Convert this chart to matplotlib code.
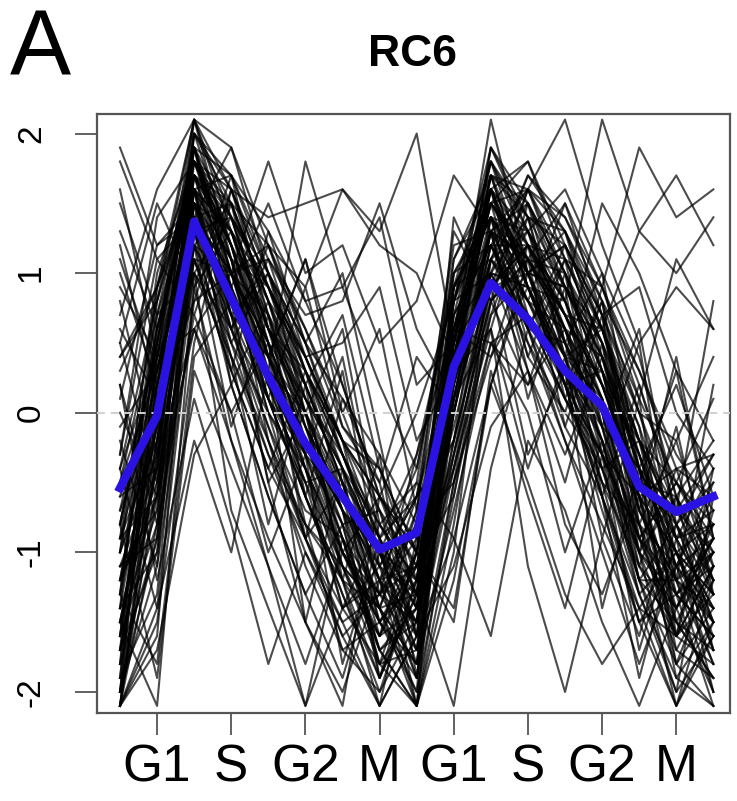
import numpy as np
import matplotlib
matplotlib.use("Agg")
from matplotlib import pyplot as plt

plt.rcParams['font.family'] = ['Liberation Sans', 'DejaVu Sans']

phase_labels = ['G1', 'S', 'G2', 'M', 'G1', 'S', 'G2', 'M']
phase_ticks = [1, 3, 5, 7, 9, 11, 13, 15]
timepoints = list(range(17))

# cluster mean (blue)
rc6_mean = [-0.54, -0.02, 1.37, 0.82, 0.26, -0.22, -0.6, -0.98, -0.86, 0.33,
            0.93, 0.67, 0.3, 0.05, -0.53, -0.71, -0.6]

# individual gene profiles (black)
genes = [
	[-2.1, -0.3, 1.9, 1.2, 0.5, -0.2, -0.9, -1.5, -1.2, 0.4, 1.5, 1.1, 0.6, 0.1, -0.6, -1.3, -1.1],
	[-1.6, 0.2, 1.7, 0.9, 0.2, -0.5, -1.1, -1.8, -1.4, 0.6, 1.3, 0.8, 0.2, -0.3, -0.9, -1.5, -1.7],
	[-0.8, 0.5, 2.1, 1.4, 0.6, 0.1, -0.4, -1.2, -1.9, 0.2, 1.6, 1.3, 0.9, 0.4, -0.2, -0.8, -1.2],
	[1.9, 1.2, 1.5, 0.8, 0.1, -0.6, -1.3, -2.0, -1.5, -0.2, 0.9, 1.2, 0.7, 0.0, -0.4, -0.9, -0.8],
	[-1.2, -0.5, 1.2, 0.4, -0.3, -1.0, -1.6, -2.1, -0.9, 0.9, 1.8, 1.3, 0.7, 0.2, -0.5, -0.6, -0.2],
	[0.3, 0.9, 1.6, 1.1, 0.9, 0.3, -0.2, -0.7, -1.1, -0.4, 0.7, 1.0, 1.2, 0.6, -0.3, -1.2, -2.0],
	[-2.1, -1.4, 0.9, 1.3, 0.6, 0.0, -0.7, -1.1, -1.3, 0.1, 0.6, 1.5, 1.0, 0.5, -0.1, -0.9, -1.4],
	[1.6, 0.4, 1.1, 0.3, -0.4, -0.9, -0.5, -1.4, -2.1, -1.0, 1.1, 0.8, 0.3, -0.5, -1.1, -1.6, -0.7],
	[-0.4, 0.8, 1.8, 1.6, 1.0, 0.4, -0.3, -0.9, -0.6, 0.5, 1.7, 1.6, 1.1, 0.6, -0.2, -0.7, -1.0],
	[-1.8, -0.9, 1.4, 0.7, 0.4, -0.8, -1.2, -1.6, -1.0, 0.7, 1.2, 0.6, -0.1, -0.6, -1.3, -2.0, -1.6],
	[0.7, 1.6, 2.1, 1.9, 1.0, 0.5, 0.1, -0.3, -0.8, -0.5, 0.4, 0.9, 0.8, 0.2, -0.6, -1.0, -1.3],
	[-1.4, 0.1, 1.3, 0.2, -0.6, -1.3, -1.9, -1.0, -0.4, 1.0, 1.4, 0.5, 0.0, -0.4, -0.2, -0.5, -0.9],
	[-0.2, -1.1, 0.8, 1.0, 1.2, 0.6, -0.1, -0.5, -1.6, -0.9, 0.2, 1.1, 1.5, 0.9, 0.3, -0.4, -0.3],
	[1.3, 0.6, 1.7, 1.2, 0.4, -0.3, -0.6, -1.0, -1.2, 0.8, 1.0, 0.9, 0.4, -0.2, -0.8, -1.8, -2.1],
	[-2.0, 0.3, 1.5, 0.6, -0.1, -0.7, -0.9, -1.7, -2.1, 0.3, 1.9, 1.4, 0.5, -0.4, -1.0, -0.6, -1.2],
	[-0.9, -0.2, 1.9, 1.0, 0.7, 0.2, -0.4, -0.8, -0.5, 1.2, 1.3, 0.3, -0.3, 0.4, -0.5, -1.4, -0.8],
	[0.9, 0.4, 0.6, -0.2, -1.1, -2.1, -1.4, -0.8, -1.2, -0.3, 0.8, 1.6, 0.9, 0.6, 0.0, -0.2, 0.4],
	[-1.0, 0.6, 1.6, 0.5, 0.0, -0.4, -1.4, -1.2, -1.5, 0.0, 1.1, 0.7, 0.2, 0.3, -0.3, -1.1, -0.5],
	[-1.7, -1.0, 1.0, 0.6, 1.1, 0.3, -0.3, -1.0, -1.7, 0.5, 1.5, 1.8, 1.2, 0.7, -0.7, -1.2, -1.0],
	[0.1, 1.2, 1.4, 0.9, 0.0, -0.9, -1.6, -1.3, -0.3, 0.6, 0.5, 0.2, 0.6, 0.1, -1.1, -0.4, -0.6],
	[-0.6, -0.4, 2.0, 1.7, 1.3, 0.8, 0.2, -0.6, -1.0, -0.1, 1.0, 1.7, 1.4, 0.8, 0.3, -0.3, -0.7],
	[1.0, 0.2, 1.2, 0.7, -0.5, -1.5, -2.1, -0.6, -0.9, 0.8, 1.4, 1.0, 0.2, -0.7, -1.5, -1.1, -1.5],
	[-1.3, 0.9, 1.7, 0.8, 0.3, 0.0, -1.0, -1.4, -0.7, 0.4, 0.9, 1.2, 0.8, -0.1, -0.4, -1.7, -1.9],
	[-2.1, -1.5, 0.5, 1.6, 0.9, 0.4, -0.2, -0.6, -1.1, -0.6, 0.9, 1.3, 1.6, 1.0, 0.4, -0.6, -1.3],
	[0.5, -0.5, 1.4, 1.0, 0.2, -0.2, -0.7, -1.9, -1.3, 0.3, 1.6, 0.9, 0.3, -0.6, -1.9, -0.9, -0.4],
	[-1.1, -0.7, 1.1, 0.3, -0.4, 0.3, -0.6, -1.5, -1.8, -0.7, 0.5, 0.7, 0.1, -0.3, -0.9, -1.3, -2.1],
	[-0.3, 1.4, 1.8, 1.3, 0.8, 0.0, -0.5, -0.9, -1.4, 0.7, 1.2, 0.6, 0.5, 0.0, -1.2, -0.8, -0.5],
	[1.5, 0.7, 1.0, 1.4, 0.6, 0.3, -0.2, -0.4, -1.0, -1.4, 0.2, 1.0, 1.3, 0.7, 0.1, -0.5, -1.0],
	[-1.5, -0.1, 1.5, 1.1, -0.2, -0.8, -1.1, -1.4, -2.0, 1.0, 1.5, 1.1, 0.6, -0.3, -0.6, -1.0, -1.3],
	[-0.7, 0.0, 1.6, 0.2, 0.8, -0.1, -0.8, -1.3, -0.8, 0.2, 1.1, 1.3, 0.4, 0.6, -0.1, -1.5, -1.0],
	[1.8, 1.1, 1.4, 1.9, 1.2, 0.9, 1.6, 1.3, 2.0, 0.5, 2.1, 1.0, 0.4, 1.5, 1.0, 0.3, -0.2],
	[0.4, 0.8, 1.7, 1.0, 1.8, 1.0, 1.2, 0.5, 0.8, 1.7, 1.3, 1.6, 2.1, 1.2, 0.5, 0.9, 0.6],
	[-0.5, 0.3, 1.3, 0.9, 0.3, 1.8, 0.9, 1.4, 0.2, 0.5, 0.9, 1.2, 0.8, 2.1, 1.3, 1.7, 1.2],
	[1.2, 0.1, 0.8, 1.6, 1.4, 1.5, 1.6, 1.2, 1.0, 0.4, 1.5, 0.6, 1.1, 0.9, 1.9, 1.4, 1.6],
	[0.0, -0.6, 0.6, 1.0, 1.1, 0.7, 0.8, 1.5, 0.6, 0.1, 0.9, 1.0, 1.2, 0.6, 1.3, 1.0, 1.4],
	[-2.1, -1.7, -0.3, 0.2, -0.6, -1.3, -0.8, -1.8, -2.1, -1.2, 0.2, -0.5, -1.3, -1.8, -1.4, -2.1, -1.5],
	[-0.8, -1.9, 0.3, -0.4, -1.1, -1.8, -1.0, -0.6, -1.3, -2.1, -0.4, 0.6, -0.2, -1.0, -1.8, -1.1, -1.8],
	[-1.5, -2.1, 0.9, -0.2, -0.9, -1.5, -2.0, -1.2, -0.5, -0.9, -1.6, -0.2, -0.7, -1.5, -2.1, -1.4, -0.9],
	[0.2, -1.2, 0.1, -0.8, -1.8, -1.0, -1.5, -2.1, -1.6, -1.1, -0.1, 0.3, -0.8, -1.3, -0.6, -1.9, -2.1],
	[-1.2, -0.6, 1.0, -0.7, -1.4, -2.1, -0.9, -1.7, -1.4, -0.4, 0.6, -1.1, -2.0, -0.9, -1.6, -0.6, -1.7],
	[-1.9, 0.4, 2.0, 1.5, 0.7, -0.1, -0.6, -1.1, -1.5, 0.5, 1.6, 1.2, 0.7, 0.2, -0.5, -1.1, -1.4],
	[-1.0, -0.3, 1.5, 1.0, 0.5, -0.4, -1.0, -1.6, -1.1, 0.1, 1.3, 0.8, 0.6, 0.0, -1.0, -1.3, -0.9],
	[-0.5, 0.7, 1.9, 1.1, 0.2, -0.3, -0.8, -0.7, -1.6, 0.8, 1.8, 1.4, 0.4, 0.3, -0.3, -0.9, -0.7],
	[-1.6, -0.8, 1.7, 1.3, 0.6, 0.2, -0.5, -1.2, -0.8, -0.2, 1.4, 1.0, 0.9, 0.5, -0.6, -0.4, -1.2],
	[0.6, 0.1, 1.3, 0.6, 0.1, -0.6, -1.2, -1.9, -1.2, 0.6, 1.0, 0.5, -0.2, -0.8, -1.4, -1.6, -1.1],
	[-2.0, -0.6, 1.6, 0.9, 0.0, -0.5, -0.4, -1.0, -1.3, 0.4, 1.7, 1.5, 1.0, 0.4, -0.4, -0.7, -0.3],
	[-1.3, 0.5, 1.8, 1.4, 0.9, 0.4, -0.2, -1.3, -1.7, -0.3, 0.8, 1.1, 0.7, 0.1, -0.7, -1.3, -1.6],
	[-0.1, 0.3, 1.4, 0.4, -0.2, -0.9, -1.4, -1.1, -0.6, 1.1, 1.6, 0.7, 0.3, -0.1, -0.9, -0.5, -0.8],
	[-1.4, -1.0, 1.2, 1.5, 0.8, 0.1, -0.3, -0.9, -1.4, 0.0, 1.2, 1.6, 1.0, 0.2, -0.2, -1.0, -1.5],
	[-0.9, 0.9, 2.1, 1.3, 0.4, -0.2, -1.0, -1.5, -1.0, 0.9, 1.5, 1.0, 0.5, -0.2, -1.1, -1.4, -1.0],
	[-2.1, -0.8, 1.8, 1.5, 0.8, 0.2, -0.5, -1.4, -1.8, 0.1, 1.3, 1.5, 0.9, 0.3, -0.8, -1.6, -1.3],
	[-1.8, 0.1, 2.0, 1.2, 0.3, -0.4, -1.1, -1.7, -2.1, 0.6, 1.8, 1.2, 0.6, -0.1, -1.2, -1.8, -1.4],
	[-2.0, -1.1, 1.6, 1.7, 1.0, 0.5, -0.3, -1.0, -1.5, -0.3, 1.1, 1.7, 1.3, 0.6, -0.4, -1.2, -1.8],
	[-1.7, 0.6, 1.9, 0.9, 0.1, -0.6, -1.3, -1.9, -1.3, 0.8, 1.6, 1.0, 0.4, -0.4, -1.3, -1.0, -1.6],
	[-1.1, -0.4, 1.7, 1.4, 1.0, 0.3, -0.4, -1.1, -1.9, -0.5, 1.0, 1.4, 1.2, 0.7, 0.0, -0.9, -2.0],
	[-2.1, 0.0, 1.4, 1.0, 0.4, 0.0, -0.7, -1.6, -1.4, 0.9, 1.4, 0.9, 0.4, -0.5, -1.5, -2.1, -1.2],
	[-1.5, -0.7, 2.0, 1.6, 0.7, -0.2, -0.9, -1.3, -1.1, 0.3, 1.9, 1.5, 0.8, 0.1, -0.9, -1.2, -1.5],
	[-0.6, 0.2, 1.6, 1.3, 0.9, 0.1, -0.6, -1.2, -1.6, 0.2, 1.3, 1.1, 1.0, 0.3, -0.6, -1.6, -1.8],
	[-1.9, -1.3, 1.3, 0.8, 0.3, -0.4, -1.2, -2.1, -1.6, 0.6, 1.6, 0.9, 0.2, -0.6, -1.4, -1.0, -0.8],
	[-1.2, 0.3, 1.8, 1.1, 0.6, 0.0, -0.7, -1.4, -1.3, 0.4, 1.4, 1.3, 0.8, 0.2, -0.5, -0.9, -1.4],
	[-2.1, -0.5, 1.5, 0.7, 0.1, -0.3, -1.0, -1.5, -1.9, 0.0, 1.2, 0.8, 0.4, 0.1, -1.0, -1.4, -2.0],
	[-1.4, 0.8, 2.1, 1.6, 0.9, 0.3, -0.3, -0.8, -1.2, 0.7, 1.7, 1.4, 0.9, 0.4, -0.3, -1.1, -0.9],
	[-0.9, -0.6, 1.4, 1.5, 1.2, 0.5, -0.2, -0.9, -1.6, -0.2, 0.9, 1.6, 1.4, 0.9, 0.2, -0.6, -1.1],
	[-1.6, 0.4, 1.9, 1.0, 0.2, -0.5, -1.4, -1.8, -1.0, 1.1, 1.7, 0.9, 0.2, -0.3, -1.0, -1.7, -1.2],
	[-2.0, -0.9, 1.1, 1.0, 0.5, -0.2, -0.7, -1.2, -2.1, -0.8, 0.8, 1.2, 1.1, 0.5, -0.2, -1.3, -1.6],
	[-1.3, -0.1, 1.7, 1.2, 0.2, -0.2, -0.8, -1.7, -1.5, 0.5, 1.5, 1.2, 0.5, 0.0, -0.8, -1.1, -0.6],
	[-1.8, 0.7, 1.6, 0.7, -0.1, -0.9, -1.5, -1.3, -0.9, 0.8, 1.9, 1.3, 0.6, -0.2, -1.3, -1.9, -1.5],
	[-0.7, 0.5, 1.9, 1.7, 1.1, 0.6, 0.0, -0.7, -1.3, 0.3, 1.6, 1.8, 1.1, 0.5, -0.4, -1.0, -1.7],
	[-1.5, -0.2, 1.3, 0.5, -0.3, -0.8, -1.7, -2.0, -1.2, 0.2, 1.1, 0.6, 0.1, -0.5, -0.8, -1.4, -0.9],
	[-2.1, -1.6, 1.5, 1.3, 0.6, -0.1, -0.6, -1.0, -1.7, 0.0, 1.3, 1.1, 0.7, 0.2, -0.6, -1.5, -1.9],
	[-1.0, 1.0, 1.8, 1.0, 0.4, -0.3, -1.1, -1.6, -0.7, 1.0, 1.2, 0.7, 0.1, -0.4, -1.2, -1.2, -0.8],
	[-1.7, -0.4, 1.9, 1.4, 0.5, 0.1, -0.4, -1.0, -1.4, 0.6, 1.6, 1.0, 0.9, 0.3, -0.5, -0.8, -1.3],
	[-0.4, 0.4, 1.5, 0.8, 0.4, -0.1, -0.9, -1.8, -1.7, -0.4, 1.0, 0.9, 0.3, -0.2, -1.0, -2.1, -1.6],
	[-1.9, 0.2, 1.7, 1.5, 0.8, 0.4, -0.2, -0.6, -1.0, 0.5, 1.5, 1.6, 1.3, 0.8, 0.0, -0.7, -1.2],
	[-1.4, -0.6, 1.6, 1.1, 0.3, -0.6, -1.2, -1.4, -1.8, 0.4, 1.3, 1.0, 0.2, -0.6, -1.5, -1.3, -1.0],
	[-2.0, 0.5, 1.8, 1.2, 0.7, 0.0, -0.6, -1.2, -1.1, 0.2, 1.7, 1.1, 0.6, 0.4, -0.7, -1.2, -1.4],
	[-1.1, -0.9, 1.3, 1.4, 0.9, 0.2, -0.5, -1.5, -2.0, -0.6, 0.7, 1.4, 1.3, 0.4, -0.4, -1.0, -1.7],
	[-1.6, 0.0, 2.1, 1.1, 0.1, -0.4, -1.0, -1.3, -1.5, 0.9, 1.4, 1.1, 0.5, -0.1, -0.9, -1.6, -1.1],
	[-0.8, 0.6, 1.6, 1.3, 0.5, -0.2, -0.7, -1.0, -1.8, 0.1, 1.2, 1.2, 0.7, 0.6, -0.2, -0.8, -1.5],
	[-2.1, -0.2, 1.2, 0.6, -0.2, -1.1, -1.7, -1.5, -1.1, 0.5, 1.8, 1.0, 0.3, -0.3, -1.2, -1.5, -1.9],
	[0.8, -0.3, 1.1, 0.5, 1.0, 0.2, 0.7, -0.4, -1.0, 0.6, 0.4, 1.2, 0.1, 0.8, -0.5, 0.3, -0.9],
	[-0.3, 1.1, 0.7, 1.5, 0.4, 1.1, 0.0, 0.6, -0.7, 1.3, 0.8, 0.2, 1.0, -0.3, 0.5, -1.2, 0.2],
	[-1.2, 0.2, 1.5, 0.3, 1.3, 0.5, 1.0, -0.2, -1.4, 0.1, 1.4, 0.4, 1.1, -0.1, 0.6, -0.8, -0.3],
	[0.5, 1.5, 0.9, 1.7, 0.6, -0.3, 0.4, -0.9, -0.3, 0.9, 1.1, 1.5, 0.5, 1.0, -0.4, 0.2, -0.6],
	[-1.5, -0.4, 1.2, -0.1, 0.7, -0.6, 0.3, -1.1, -0.6, -0.2, 1.0, 0.3, -0.5, 0.5, -1.0, -0.1, -1.3],
	[-0.9, 0.1, 1.0, 0.4, -0.8, 0.2, -1.2, -0.3, -1.9, 0.3, 0.6, -0.4, 0.4, -0.9, 0.1, -1.6, -0.4],
	[0.2, -0.8, 0.7, 0.0, 0.5, -0.9, 0.1, -0.5, 0.4, 0.0, 1.3, 0.1, 0.9, -0.6, 0.2, -0.7, 0.8],
	[-1.7, -0.2, 1.4, 0.9, 1.5, 0.8, 0.9, 0.2, -0.4, 0.9, 1.4, 0.8, 1.5, 0.7, 0.9, 0.0, -0.4],
	[-0.4, -1.4, -0.2, -1.0, 0.3, -1.5, -0.4, -1.9, -1.0, -1.5, 0.3, -0.6, -1.4, -0.3, -1.7, -0.8, -1.5],
	[-2.0, -0.3, 0.6, 0.0, -1.0, -0.3, -1.8, -0.9, -2.1, -0.5, 0.5, 0.0, -1.0, -0.2, -1.2, -2.0, -0.6],
	[1.1, 0.3, 1.6, 0.6, 1.2, 0.4, 0.5, 0.9, -0.2, 0.3, 1.3, 0.4, 0.0, 0.9, 0.1, 1.1, 0.6],
	[-0.8, 0.4, 1.8, 1.2, 0.4, 1.1, 0.2, -0.6, 0.0, 0.8, 1.6, 0.6, 1.2, 0.3, -0.7, 0.4, -0.9],
	[-1.3, -1.8, 0.4, 0.8, -0.5, 0.0, -1.1, -1.4, -0.6, 0.3, 0.9, -0.3, 0.3, -1.4, -0.4, -1.8, -1.1],
	[0.4, 0.9, 1.9, 0.7, 1.0, 0.0, 0.6, -0.8, -1.3, 1.4, 0.8, 1.1, -0.1, 0.7, -0.9, -0.5, 0.1],
	[-1.0, -0.1, 1.2, 1.0, 0.1, 0.9, -0.1, -0.4, -1.2, 0.4, 1.7, 0.9, 0.2, 0.8, -0.8, -0.2, -1.1],
]

fig = plt.figure(figsize=(7.37, 8.01), dpi=100)
ax = fig.add_axes([0.1316, 0.110, 0.859, 0.7477])

for g in genes:
	ax.plot(timepoints, g, color='black', lw=1.5, alpha=0.7, zorder=2)

ax.axhline(0, color='#d0d0d0', lw=1.4, ls=(0, (4, 3)), zorder=3)
ax.plot(timepoints, rc6_mean, color='#2a12e2', lw=6, solid_joinstyle='round', zorder=4)

ax.set_xlim(-0.62, 16.45)
ax.set_ylim(-2.15, 2.14)
ax.set_xticks(phase_ticks)
ax.set_xticklabels(phase_labels, fontsize=37)
ax.set_yticks([-2, -1, 0, 1, 2])
ax.set_yticklabels(['-2', '-1', '0', '1', '2'], fontsize=24, rotation=90, va='center')
ax.tick_params(axis='x', length=16, width=1.3, color='#555555', pad=6)
ax.tick_params(axis='y', length=16, width=1.3, color='#555555', pad=20)
for s in ax.spines.values():
	s.set_color('#555555')
	s.set_linewidth(1.6)

fig.text(0.013, 0.906, 'A', fontsize=66, ha='left', va='baseline')
fig.text(0.56, 0.917, 'RC6', fontsize=32, fontweight='bold', ha='center', va='baseline')

fig.savefig('out.png', dpi=100)
